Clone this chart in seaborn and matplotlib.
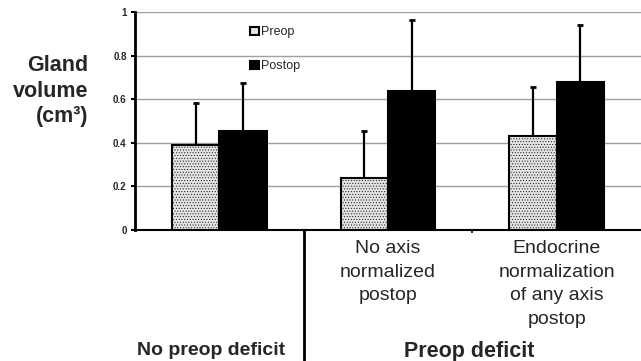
import matplotlib
matplotlib.use("Agg")
import matplotlib.pyplot as plt
import seaborn as sns
import pandas as pd

# data
groups = ["No preop deficit", "No axis normalized", "Endocrine normalization"]
group_labels = ["", "No axis\nnormalized\npostop", "Endocrine\nnormalization\nof any axis\npostop"]
phases = ["Preop", "Postop"]
preop_mean = [0.39, 0.24, 0.43]
postop_mean = [0.455, 0.635, 0.68]
preop_sd = [0.19, 0.215, 0.225]
postop_sd = [0.22, 0.33, 0.26]

df = pd.DataFrame({
    "group": groups * 2,
    "phase": ["Preop"] * 3 + ["Postop"] * 3,
    "volume": preop_mean + postop_mean,
    "sd": preop_sd + postop_sd,
})

sns.set_style("white")
plt.rcParams["font.family"] = ["Liberation Sans", "DejaVu Sans"]
plt.rcParams["hatch.linewidth"] = 0.35

fig = plt.figure(figsize=(6.41, 3.61), dpi=100)
ax = fig.add_axes([0.2106, 0.363, 0.7894, 0.604])

sns.barplot(data=df, x="group", y="volume", hue="phase", order=groups,
            hue_order=phases, palette={"Preop": "#e2e2e2", "Postop": "black"},
            width=0.56, gap=0, errorbar=None, edgecolor="black", linewidth=1.5,
            saturation=1, ax=ax, zorder=3)

# hatch the preop bars and add one-sided error bars
for bars, ph in zip(ax.containers, phases):
    sub = df[df["phase"] == ph].set_index("group").loc[groups]
    xs = [b.get_x() + b.get_width() / 2 for b in bars]
    if ph == "Preop":
        for b in bars:
            b.set_hatch("......")
    ax.errorbar(xs, sub["volume"], yerr=[[0] * 3, sub["sd"]], fmt="none",
                ecolor="black", elinewidth=1.6, capsize=2, capthick=2, zorder=2)

ax.set_ylim(0, 1)
ax.set_xlim(-0.5, 2.5)
ax.set_yticks([0, 0.2, 0.4, 0.6, 0.8, 1])
ax.set_yticklabels(["0", "0.2", "0.4", "0.6", "0.8", "1"], fontsize=7, fontweight="bold")
ax.yaxis.grid(True, color="#a0a0a0", linewidth=1)
ax.set_axisbelow(True)
ax.tick_params(axis="y", length=3, width=1.5, left=True, color="black", pad=3)
ax.set_xticks([0.5, 1.5])
ax.set_xticklabels([])
ax.tick_params(axis="x", length=2, width=1.2, bottom=True, color="black")
for s in ["top", "right"]:
    ax.spines[s].set_visible(False)
ax.spines["left"].set_linewidth(2)
ax.spines["bottom"].set_linewidth(1.5)
ax.spines["left"].set_color("black")
ax.spines["bottom"].set_color("black")
ax.set_xlabel("")
ax.set_ylabel("")

# category labels under the axis
tr = ax.get_xaxis_transform()
for i, lab in enumerate(group_labels):
    if lab:
        ax.text(i, -0.045, lab, ha="center", va="top", fontsize=14,
                transform=tr, linespacing=1.52)
ax.text(-0.05, -0.573, "No preop deficit", ha="center", va="baseline", fontsize=14,
        fontweight="bold", transform=tr)
ax.text(1.48, -0.583, "Preop deficit", ha="center", va="baseline", fontsize=15.5,
        fontweight="bold", transform=tr)
ax.plot([0.5, 0.5], [0, -0.62], color="black", lw=2, transform=tr, clip_on=False)

fig.text(0.138, 0.848, "Gland\nvolume\n(cm³)", ha="right", va="top",
         fontsize=15.5, fontweight="bold", linespacing=1.3)

leg = ax.legend(loc="upper left", bbox_to_anchor=(0.205, 0.985), frameon=False,
                fontsize=9, handlelength=0.7, handleheight=0.7,
                handletextpad=0.2, labelspacing=1.75)

fig.savefig("out.png", dpi=100)
